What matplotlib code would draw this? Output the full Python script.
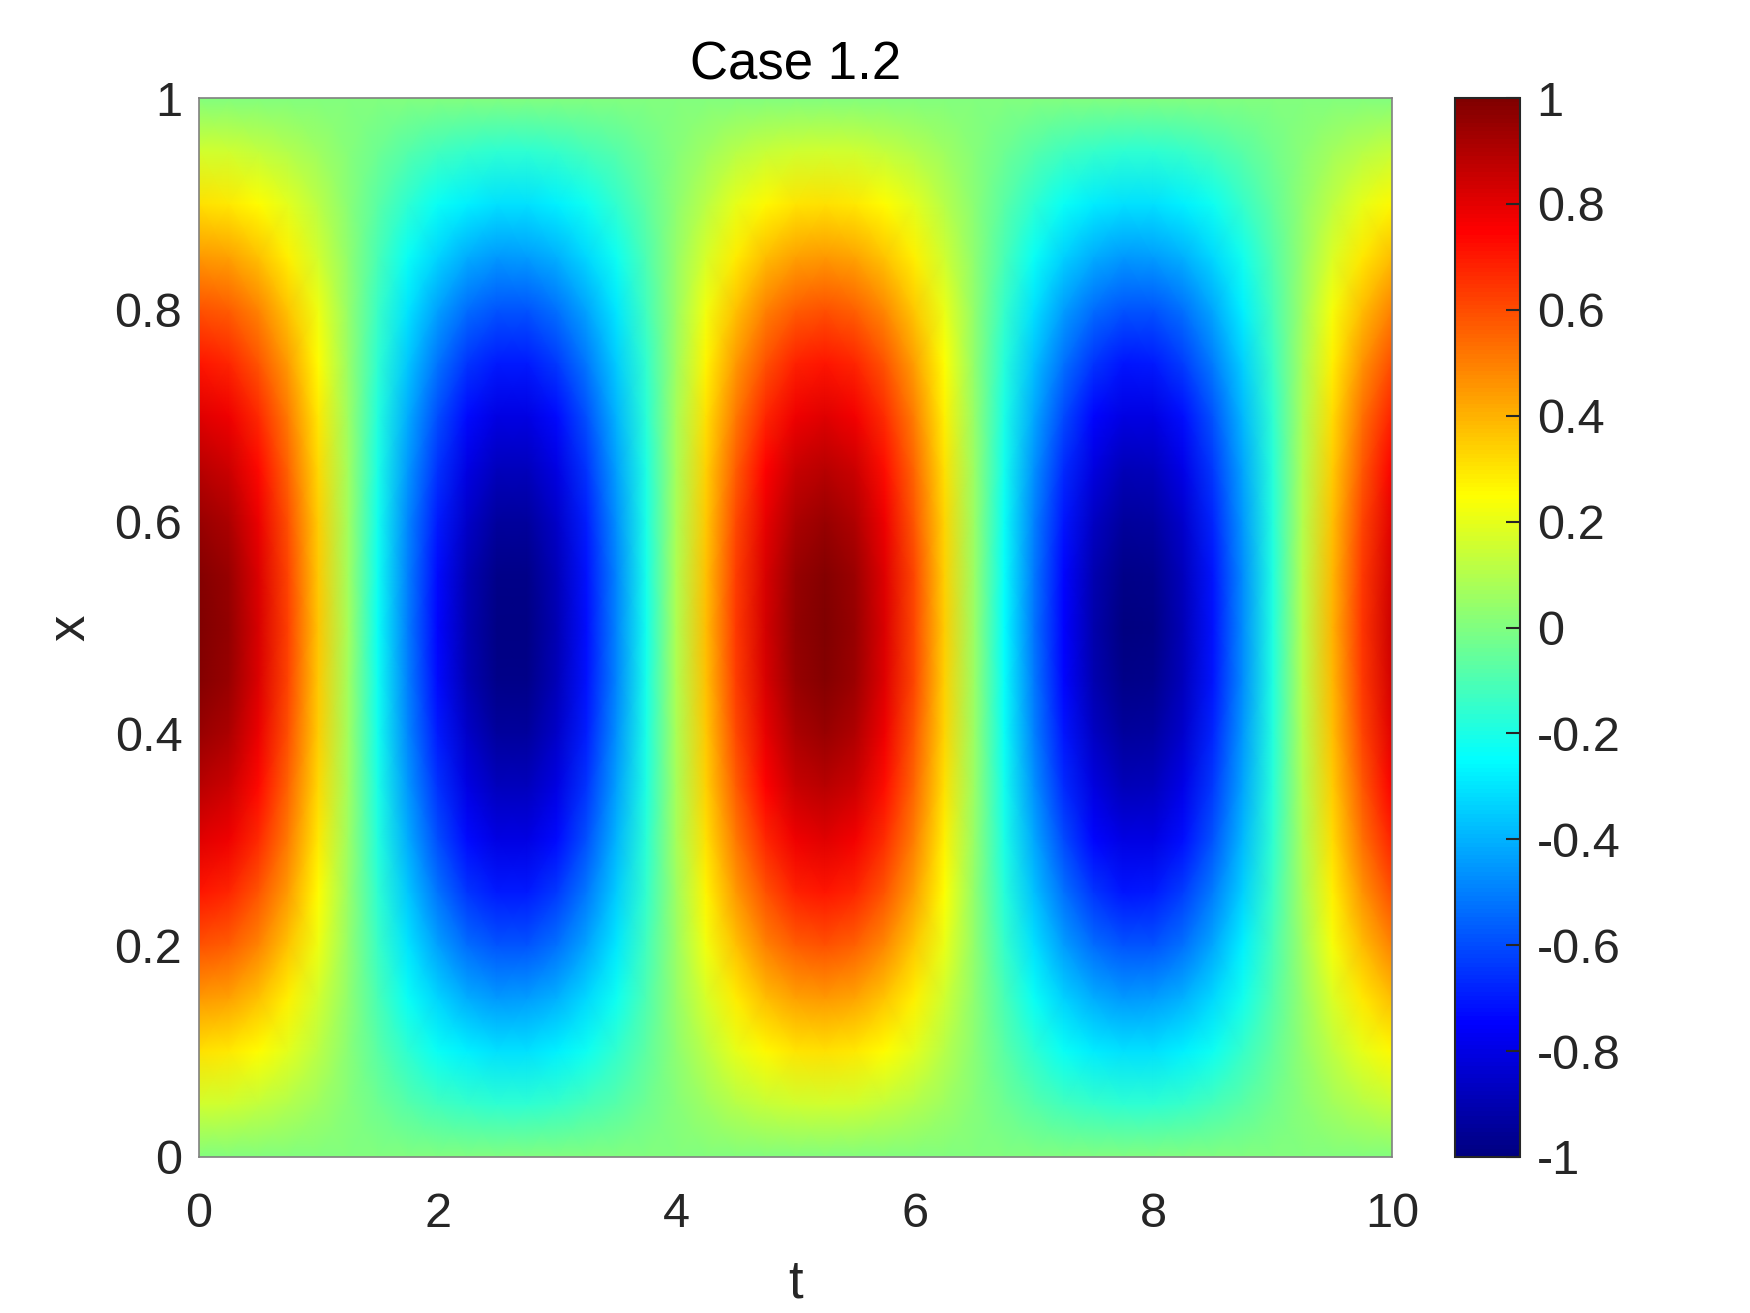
import numpy as np
import matplotlib
matplotlib.use("Agg")
import matplotlib.pyplot as plt
from matplotlib.colors import LinearSegmentedColormap

# ---- data ----
t_values = np.arange(0, 10.0001, 0.25)
x_values = np.arange(0, 1.0001, 0.05)
# amplitude profile across x (read at x = 0, 0.05, ..., 1)
x_profile = [0.0, 0.16, 0.31, 0.45, 0.59, 0.71, 0.81, 0.89, 0.95, 0.99, 1.0,
             0.99, 0.95, 0.89, 0.81, 0.71, 0.59, 0.45, 0.31, 0.16, 0.0]
# time signal at x = 0.5 (read at t = 0, 0.25, ..., 10)
t_profile = [1.0, 0.955, 0.825, 0.622, 0.362, 0.071, -0.227, -0.505, -0.737,
             -0.904, -0.990, -0.987, -0.897, -0.726, -0.490, -0.211, 0.087,
             0.378, 0.635, 0.835, 0.960, 1.0, 0.950, 0.815, 0.608, 0.347,
             0.054, -0.243, -0.519, -0.747, -0.911, -0.993, -0.985, -0.889,
             -0.714, -0.476, -0.194, 0.104, 0.393, 0.647, 0.844]
title_text = "Case 1.2"
xticks = [0, 2, 4, 6, 8, 10]
yticks = [0, 0.2, 0.4, 0.6, 0.8, 1]
cticks = [-1, -0.8, -0.6, -0.4, -0.2, 0, 0.2, 0.4, 0.6, 0.8, 1]

field = np.outer(np.array(x_profile), np.array(t_profile))

# MATLAB-style jet
matlab_jet = LinearSegmentedColormap.from_list(
    'matlab_jet',
    [(0.0, (0, 0, 0.5)), (0.125, (0, 0, 1)), (0.375, (0, 1, 1)),
     (0.625, (1, 1, 0)), (0.875, (1, 0, 0)), (1.0, (0.5, 0, 0))], N=256)

plt.rcParams['font.family'] = ['Liberation Sans', 'DejaVu Sans']
txt = '#262626'
W, H = 1750, 1313
fig = plt.figure(figsize=(W / 100, H / 100), dpi=100)

ax = fig.add_axes([199 / W, 1 - 1157 / H, (1392 - 199) / W, (1157 - 98) / H])
T, X = np.meshgrid(t_values, x_values)
mesh = ax.pcolormesh(T, X, field, cmap=matlab_jet, vmin=-1, vmax=1, shading='gouraud')
ax.set_xlim(0, 10)
ax.set_ylim(0, 1)
ax.set_xticks(xticks)
ax.set_xticklabels([f"{v:g}" for v in xticks])
ax.set_yticks(yticks)
ax.set_yticklabels([f"{v:g}" for v in yticks])
ax.tick_params(length=0, labelsize=35, colors=txt)
ax.tick_params(axis='x', pad=25)
ax.tick_params(axis='y', pad=12)
for s in ax.spines.values():
    s.set_color('#808080')
    s.set_linewidth(1.2)
ax.set_xlabel('t', fontsize=38, color=txt, labelpad=16)
ax.set_ylabel('x', fontsize=38, color=txt, labelpad=14)
ax.set_title(title_text, fontsize=38, color='black', pad=13)

cax = fig.add_axes([1455 / W, 1 - 1157 / H, (1520 - 1455) / W, (1157 - 98) / H])
cb = fig.colorbar(mesh, cax=cax, ticks=cticks)
cb.ax.set_yticklabels([f"{v:g}" for v in cticks])
cb.ax.tick_params(direction='in', length=10, width=1.5, labelsize=35,
                  colors=txt, pad=12)
cb.outline.set_edgecolor(txt)
cb.outline.set_linewidth(1.5)

fig.savefig('out.png', dpi=100)
